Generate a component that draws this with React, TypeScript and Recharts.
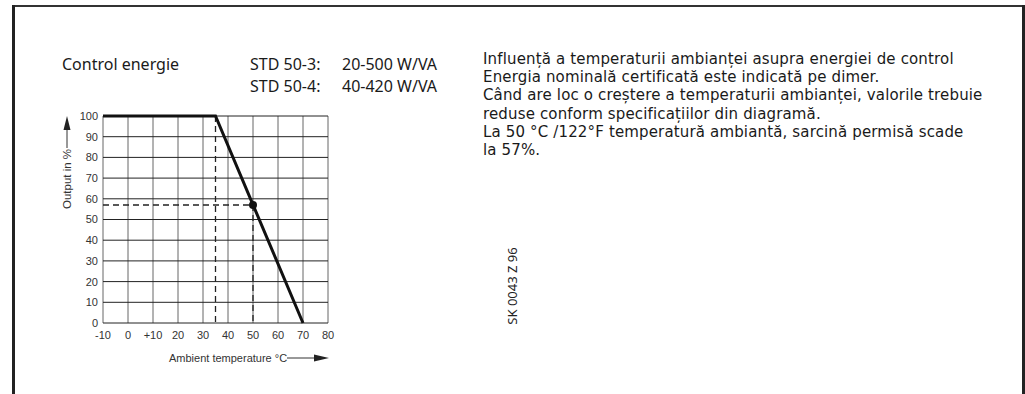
import React from "react";
import { LineChart, Line, XAxis, YAxis, CartesianGrid, ReferenceDot } from "recharts";

// derating curve: full output up to 35 °C, then linear to 0 at 70 °C
const curveTemps = [-10, 35, 70];
const curveOutput = [100, 100, 0];

const xTicks = [-10, 0, 10, 20, 30, 40, 50, 60, 70, 80];
const xTickLabels = ["-10", "0", "+10", "20", "30", "40", "50", "60", "70", "80"];
const yTicks = [0, 10, 20, 30, 40, 50, 60, 70, 80, 90, 100];

const kneeTemp = 35;
const markTemp = 50;
const markOutput = 57;

const rightText = [
  "Influență a temperaturii ambianței asupra energiei de control",
  "Energia nominală certificată este indicată pe dimer.",
  "Când are loc o creștere a temperaturii ambianței, valorile trebuie",
  "reduse conform specificațiilor din diagramă.",
  "La 50 °C /122°F temperatură ambiantă, sarcină permisă scade",
  "la 57%.",
];

const curve = curveTemps.map((t, i) => ({ t, o: curveOutput[i] }));
const guideH = [
  { t: xTicks[0], o: markOutput },
  { t: markTemp, o: markOutput },
];
const guideKnee = [
  { t: kneeTemp, o: 100 },
  { t: kneeTemp, o: 0 },
];
const guideMark = [
  { t: markTemp, o: markOutput },
  { t: markTemp, o: 0 },
];

const TEXT_FONT = "'Noto Sans', sans-serif";
const BODY_FONT = "'DejaVu Sans', sans-serif";
const AXIS_FONT = "'Liberation Sans', Arial, sans-serif";

export default function App() {
  const tick = { fill: "#333", fontSize: 11, fontFamily: AXIS_FONT };
  const head = { position: "absolute" as const, top: 53, fontFamily: TEXT_FONT, fontSize: 16, color: "#1a1a1a", lineHeight: "22px" };

  return (
    <div style={{ position: "absolute", left: 0, top: 0, width: 1025, height: 394, background: "#fff", overflow: "hidden" }}>
      {/* frame */}
      <svg width={1025} height={394} style={{ position: "absolute", left: 0, top: 0 }}>
        <line x1={12} y1={6} x2={1024} y2={6} stroke="#333" strokeWidth={2} />
        <line x1={13.5} y1={5} x2={13.5} y2={394} stroke="#222" strokeWidth={3} />
        <line x1={1023.5} y1={5} x2={1023.5} y2={394} stroke="#222" strokeWidth={3} />
      </svg>

      <div style={{ ...head, left: 62 }}>Control energie</div>
      <div style={{ ...head, left: 250 }}>
        <div>STD 50-3:</div>
        <div>STD 50-4:</div>
      </div>
      <div style={{ ...head, left: 342 }}>
        <div>20-500 W/VA</div>
        <div>40-420 W/VA</div>
      </div>

      <div style={{ position: "absolute", left: 483, top: 50, fontFamily: BODY_FONT, fontSize: 15, letterSpacing: 0.15, color: "#1a1a1a", lineHeight: "18.2px", whiteSpace: "nowrap" }}>
        {rightText.map((l, i) => (
          <div key={i}>{l}</div>
        ))}
      </div>

      <div style={{ position: "absolute", left: 0, top: 0 }}>
        <LineChart width={340} height={380} margin={{ top: 116, right: 12, left: 0, bottom: 27 }}>
          <CartesianGrid horizontal={false} stroke="#666" strokeWidth={1} />
          <CartesianGrid vertical={false} stroke="#222" strokeWidth={1} />
          <XAxis
            type="number"
            dataKey="t"
            domain={[-10, 80]}
            ticks={xTicks}
            tickFormatter={(v: number) => xTickLabels[xTicks.indexOf(v)]}
            tick={tick}
            tickLine={false}
            axisLine={false}
            height={30}
            interval={0}
          />
          <YAxis
            type="number"
            dataKey="o"
            domain={[0, 100]}
            ticks={yTicks}
            tick={tick}
            tickLine={false}
            axisLine={false}
            width={103}
            tickSize={3}
            interval={0}
          />
          <Line data={guideH} dataKey="o" stroke="#222" strokeWidth={1.3} strokeDasharray="6 4" dot={false} isAnimationActive={false} />
          <Line data={guideKnee} dataKey="o" stroke="#222" strokeWidth={1.3} strokeDasharray="6 4" dot={false} isAnimationActive={false} />
          <Line data={guideMark} dataKey="o" stroke="#222" strokeWidth={1.3} strokeDasharray="6 4" dot={false} isAnimationActive={false} />
          <Line data={curve} dataKey="o" stroke="#111" strokeWidth={3} dot={false} isAnimationActive={false} />
          <ReferenceDot x={markTemp} y={markOutput} r={4} fill="#111" stroke="none" />
        </LineChart>
      </div>

      {/* axis captions with arrows */}
      <svg width={1025} height={394} style={{ position: "absolute", left: 0, top: 0 }}>
        <text
          transform="translate(71,179) rotate(-90)"
          textAnchor="middle"
          fontFamily={AXIS_FONT}
          fontSize={11.5}
          fill="#333"
        >
          Output in %
        </text>
        <line x1={67} y1={148} x2={67} y2={128} stroke="#333" strokeWidth={1} />
        <polygon points="67,116 63.5,130 70.5,130" fill="#222" />

        <text x={169} y={362} fontFamily={AXIS_FONT} fontSize={11} fill="#333">
          Ambient temperature °C
        </text>
        <line x1={287} y1={358} x2={316} y2={358} stroke="#333" strokeWidth={1} />
        <polygon points="329,358 314,354.5 314,361.5" fill="#222" />

        <text
          transform="translate(517,286) rotate(-90)"
          textAnchor="middle"
          fontFamily={TEXT_FONT}
          fontSize={13}
          fill="#222"
        >
          SK 0043 Z 96
        </text>
      </svg>
    </div>
  );
}
